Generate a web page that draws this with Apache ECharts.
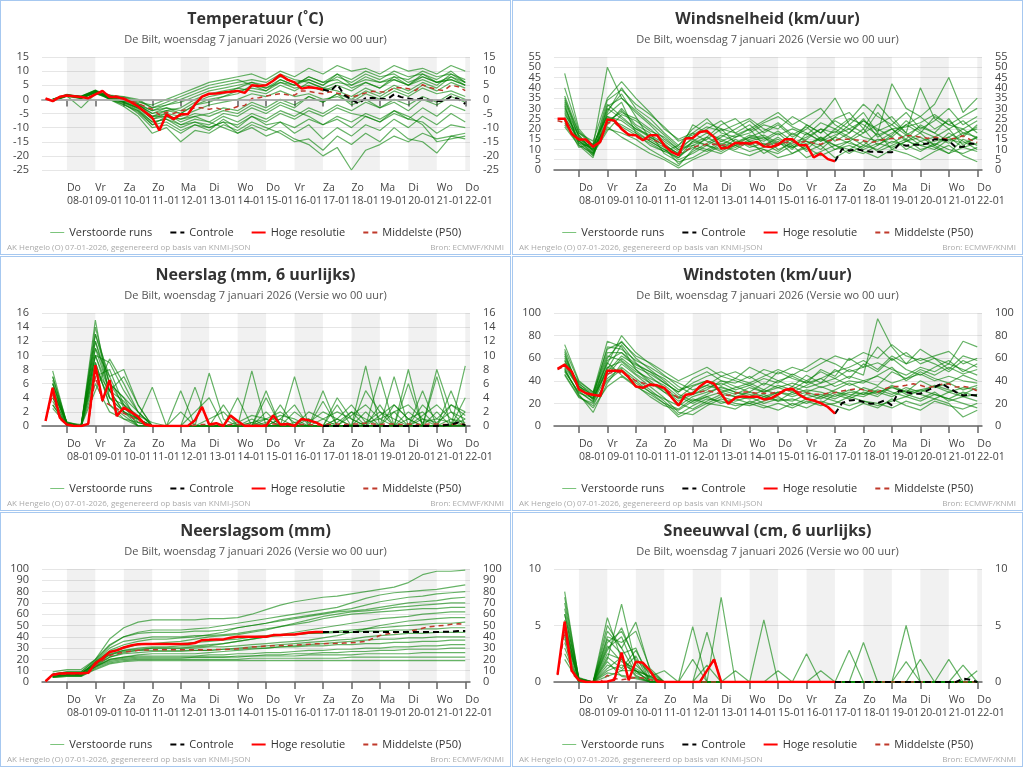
<!DOCTYPE html>
<html>
<head>
<meta charset="utf-8">
<script src="https://cdn.jsdelivr.net/npm/echarts@6/dist/echarts.min.js"></script>
<style>
  body { margin: 0; background: #fff; }
  .panel { position: absolute; width: 511px; height: 255px; box-sizing: border-box; border: 1px solid #a6c8f0; }
</style>
</head>
<body>
<div class="panel" id="temp" style="left:0;top:0"></div>
<div class="panel" id="wind" style="left:512px;top:0"></div>
<div class="panel" id="rain" style="left:0;top:256px"></div>
<div class="panel" id="gust" style="left:512px;top:256px"></div>
<div class="panel" id="rainsum" style="left:0;top:512px"></div>
<div class="panel" id="snow" style="left:512px;top:512px"></div>
<script>
// tijdas: uren t.o.v. 08-01 00 uur
var hours6 = [-18,-12,-6,0,6,12,18,24,30,36,42,48,54,60,66,72,78,84,90,96,102,108,114,120,126,132,138,144,150,156,
  162,168,174,180,186,192,198,204,210,216,222,228,234,240,246,252,258,264,270,276,282,288,294,300,306,312,318,324,330,336];
var hours12 = [-12,0,12,24,36,48,60,72,84,96,108,120,132,144,156,168,180,192,204,216,228,240,252,264,276,288,300,312,324,336];
var dayTicks = [0,24,48,72,96,120,144,168,192,216,240,264,288,312,336];
var dayNames = ['Do','Vr','Za','Zo','Ma','Di','Wo','Do','Vr','Za','Zo','Ma','Di','Wo','Do'];
var dayDates = ['08-01','09-01','10-01','11-01','12-01','13-01','14-01','15-01','16-01','17-01','18-01','19-01','20-01','21-01','22-01'];
var greyDays = [[0,24],[48,72],[96,120],[144,168],[192,216],[240,264],[288,312],[336,340]];

// y-as labels per grafiek
var tempTicks = [-25,-20,-15,-10,-5,0,5,10,15];
var windTicks = [0,5,10,15,20,25,30,35,40,45,50,55];
var rainTicks = [0,2,4,6,8,10,12,14,16];
var gustTicks = [0,20,40,60,80,100];
var sumTicks = [0,10,20,30,40,50,60,70,80,90,100];
var snowTicks = [0,5,10];

/*TODO: temperatuur*/
var tempHres = [0.3,-0.6,0.9,1.4,1.1,0.8,0.4,1.8,3,0.8, 0.8,0.2,-1,-2.5,-4.5,-6.5,-11,-5.3,-7,-5.3,
  -5.3,-1.8,1,2,2.1,2.4,2.7,3,2.3,5, 4.7,5,6.6,8.7,7,6,3.8,4.3,4,3.5];
var tempControl = [3.5,2.8,5.3,1.5,0,-1.5,0.5,0.5,0.3,0,1.8,0.8,0.3,-0.2,0.4,-0.3,-0.6,-0.6,1,0.2,-1.6];
var tempMedian = [0.2,-0.3,1,1.5,1.2,1,0.6,2,2.5,1.5, 1.2,0.5,-0.5,-1.5,-2.5,-3.5,-5.5,-4.5,-5,-4,
  -3.5,-3,-3,-3.5,-3,-3.8,-3.5,-2.5,-2.2,0.3, 0.6,1.2,1.6,2,1.6,1.5,3,2.9,2.3,2,
  2.7,2.2,1.7,0.8,1.5,2.3,2.9,2.7,2.6,4.1, 4.1,3.8,3.1,5.2,4.2,3.5,3.1,5,4.5,3.1];
var tempMembers = [
  [-0.5,1.5,1,3,1,0,-2,-5,-4,-3, 0,2,3,4,6,5,8,6,7,5, 8,6,9,7,10,8,9,7,10,6],
  [0,1.5,0.5,2.5,1.5,1,0,-3,-2,0, 2,4,5,6,7,6,9,7,6,4, 6,5,7,6,8,7,10,8,9,7],
  [-0.3,1.2,1,2.8,0.5,-1,-3,-6,-5,-6, -4,-2,-1,0,2,1,3,1,2,0, 1,-1,2,0,3,1,4,2,3,1],
  [-0.7,1.3,0.8,3,0,-2,-4,-8,-7,-10, -8,-9,-6,-8,-5,-7,-4,-6,-3,-5, -2,-4,-1,-3,0,-2,1,-1,2,0],
  [-0.4,1.6,0.5,2.6,0.2,-1.5,-5,-10,-9,-12, -9,-11,-7,-10,-6,-9,-8,-12,-9,-14, -10,-13,-9,-11,-7,-10,-6,-9,-5,-8],
  [-0.2,1.4,1.2,3.2,0,-2.5,-6,-12,-10,-15, -11,-12,-9,-11,-8,-10,-12,-15,-14,-18, -13,-16,-12,-15,-10,-14,-15,-19,-13,-14],
  [0,1.8,1,2.7,1.2,0.5,-1,-2,0,2, 4,6,7,8,9,7,10,8,11,9, 12,10,11,9,12,10,11,9,12,10],
  [-0.5,1.1,0.7,2.9,0.8,-0.5,-2.5,-7,-5,-8, -6,-5,-3,-4,-1,-3,0,-2,1,-1, 2,0,3,1,4,2,5,3,6,4],
  [-0.6,1.5,0.9,3.1,0.3,-1.2,-4,-9,-8,-11, -9,-10,-8,-12,-10,-13,-11,-14,-16,-20, -17,-25,-18,-16,-13,-15,-12,-14,-13,-12],
  [-0.2,1.3,0.6,2.4,1,0,-1.5,-4,-3,-5, -2,0,1,3,4,3,6,4,5,3, 5,3,6,4,7,5,8,6,7,5],
  [-0.4,1.4,0.4,2.2,0.6,-0.8,-3,-6,-6,-9, -7,-8,-5,-6,-3,-5,-2,-4,-6,-9, -7,-10,-6,-8,-4,-7,-3,-6,-2,-4],
  [0.1,1.6,0.2,2.5,1.4,0.2,-2,-5,-3,-4, -1,1,2,4,3,2,5,3,6,4, 3,1,4,2,5,3,6,4,8,5],
  [-0.3,1.2,-3,2,0.4,-1,-3.5,-8,-7,-9, -8,-10,-8,-9,-6,-8,-5,-7,-4,-6, -3,-5,-6,-8,-5,-7,-8,-12,-9,-10],
  [-0.1,1.5,1.1,3.3,1.3,0.3,-1.5,-6,-4,-5, -2,-1,1,2,5,3,7,5,8,6, 9,5,8,6,7,5,9,6,8,6],
  [-0.6,1,0.3,2.3,0.1,-1.8,-4.5,-9,-6,-7, -5,-6,-4,-5,-2,-4,-1,-3,1,-1, 2,-2,0,-3,-1,-4,0,-2,1,-1],
  [-0.2,1.7,0.8,2.8,0.9,-0.3,-2,-4,-2,-1, 1,3,4,5,6,4,7,5,8,6, 7,4,6,4,8,5,7,5,9,6],
  [-0.5,1.3,0.5,2.6,0.5,-1,-3,-7,-6,-7, -6,-8,-10,-12,-9,-11,-8,-10,-7,-9, -6,-8,-5,-7,-4,-6,-9,-15,-14,-13],
  [0,1.4,0.9,3,1.1,0.8,-0.5,-3,-1,1, 3,5,6,7,5,4,6,5,7,5, 9,7,10,8,9,6,8,6,7,5]
];

/*TODO: windsnelheid*/
var windHres = [24.9,24.9,17.5,14.8,14.8,11.3,13.7,24.6,24.1,20, 17.2,16.9,14.5,16.9,16.9,12,8.8,7.2,15.3,15.6,
  18.5,19,16,10.5,11,13.2,13.2,12.9,13.7,11.5, 11.2,12.3,15,15,12.1,12.1,6.1,8.1,5.3,4.2];
var windControl = [4.2,10.2,9.4,10.2,9.4,8.9,8.9,8.6,8.6,12.6,11.8,12.3,12.3,12.9,15,15,14.2,11,11.3,12.9,12.6];
var windMedian = [24,23,18,15,14,11.5,14,23,23,20, 17.5,16,15,15,14,11.5,9,8,9.5,11,
  12,12.5,12.5,12,12.3,12.5,12.2,12.5,12.8,12.5, 12.6,13,13.4,13.4,13.2,14.2,13,12.5,14.2,14.6,
  15,15,14.6,14.2,13.4,14,15,15.3,15.5,16.7, 16.7,16,15.5,15.9,15.5,15,15.5,16.7,14.8,13.4];
var windMembers = [
  [35,16,10,30,25,20,16,12,8,14, 18,15,12,16,14,18,12,15,20,14, 18,25,16,20,14,18,12,16,20,15],
  [47,20,12,50,35,28,22,15,10,12, 15,20,18,22,16,12,18,14,10,16, 22,18,28,20,15,22,18,25,16,22],
  [28,14,8,25,22,18,14,10,5,8, 12,10,15,11,13,9,14,10,16,12, 8,12,10,14,12,9,13,10,8,11],
  [32,12,6,28,40,30,25,18,12,20, 25,18,16,20,12,15,10,18,14,20, 16,12,18,10,14,16,12,18,14,10],
  [25,15,11,22,30,22,18,8,4,6, 10,14,12,9,11,14,8,12,16,10, 14,18,22,26,18,14,16,20,12,16],
  [36,18,14,35,43,35,28,20,15,18, 14,12,16,18,22,20,26,22,18,24, 20,16,14,18,22,26,20,24,18,20],
  [30,17,9,20,18,15,10,6,2,10, 16,12,10,14,8,12,15,9,12,6, 10,8,12,16,10,14,11,8,15,12],
  [22,13,7,24,28,25,20,14,9,16, 20,24,18,14,16,10,13,16,20,18, 24,32,26,22,28,20,24,30,22,26],
  [40,19,12,27,33,18,12,9,6,14, 12,16,20,24,18,22,16,20,26,35, 22,28,18,42,30,26,32,45,28,35],
  [26,14,10,32,26,20,17,13,7,11, 9,13,11,15,17,13,11,14,12,16, 13,11,15,13,17,12,14,16,11,13],
  [33,16,8,29,37,26,15,11,3,9, 13,17,14,12,10,8,12,6,9,12, 10,14,9,12,15,10,12,8,11,9],
  [24,11,13,26,21,17,13,9,12,18, 23,20,13,16,19,23,17,21,15,19, 15,20,12,17,24,19,16,13,17,21],
  [29,15,7,31,35,29,23,17,11,15, 12,9,13,17,15,19,14,22,18,25, 28,20,32,24,18,40,25,20,24,18],
  [27,17,9,23,29,21,16,12,8,22, 18,14,17,20,24,28,22,26,30,22, 18,24,20,16,22,18,26,22,20,24],
  [31,13,11,21,16,12,8,5,1,5, 8,12,9,7,10,6,8,11,7,10, 12,9,6,10,8,5,9,12,7,4],
  [23,14,10,34,39,32,27,21,14,17, 21,19,22,25,20,17,20,17,23,20, 25,22,17,20,21,23,27,22,26,30],
  [34,18,12,26,24,19,14,10,6,12, 10,8,12,14,12,16,11,13,15,12, 14,10,13,11,14,12,10,15,13,16],
  [21,12,8,19,27,24,19,16,10,13, 16,22,25,19,23,26,21,18,14,17, 20,24,19,22,17,21,18,14,18,16]
];

/*TODO: neerslag per 6 uur*/
var rainHres = [0.7,5.4,1.2,0.2,0,0,0.3,8.6,3.6,6.5, 1.4,2.6,2,1.3,0.2,0,0,0,0,0,
  0,0.8,2.7,0.2,0.4,0,1.5,0.7,0,0, 0,0,1.5,0.2,0.3,0,1,0.8,0.5,0];
var rainControl = [0,0,0,0,0,0,0,0,0,0,0,0,0,0,0,0,0,0.1,0.2,0.5,0.1];
var rainMedian = [0.8,4.5,1,0.2,0.1,0,0.3,7,3.5,3, 2.5,1.8,1.3,0.8,0.4,0.1,0,0,0,0,
  0,0.1,0.2,0.2,0.1,0.1,0.2,0.2,0.1,0.2, 0.1,0.2,0.3,0.2,0.1,0.1,0.2,0.2,0.1,0.2,
  0.2,0.3,0.2,0.3,0.3,0.4,0.3,0.2,0.3,0.3, 0.2,0.3,0.2,0.2,0.3,0.3,0.2,0.2,0.3,0.2];
var rainMembers = [
  [7.8,0.3,0,15,4,2,0.5,0,0,0, 0,0,0,0,1,0,0,0,1,0, 0,2,0,0,3,1,0,0,0,2],
  [5,0.5,0.2,12,6,3,1,0,0,0, 0,1,2,0,0,0,0,0,0,0, 1,0,5,2,0,0,1,0,0,0],
  [4,0.2,0,10,9,5,2,0,0,0, 2,4,0,0,0,0,1,3,0,0, 0,0,0,0,0,1,0,8,2,0],
  [6,0.4,0,9,3,1,0,0,0,0, 0,0,0,0.5,1.5,1,0,2,0.5,2, 1,0,0.5,1,2,0,3,1,0.5,0],
  [3,0.1,0,13,7,8,3,0,0,0, 0,0,0,0,0,0,0,0,0,0, 4,1,0,0,0,6,0,0,1,0],
  [7,0.3,0.1,11,5,2,1,5.5,0,0, 0,0,0,0,0,1,2,0.5,1,0, 0.5,2,1,0,2,3,1,0.5,2,1],
  [5.5,0.2,0,8,4,3,1.5,0.5,0,0, 0,0,0,0,7.8,0,0,0,0,3.5, 0,0,0,0,0,0,0,2,0,0],
  [4.5,0.6,0,14,6,4,0.5,0,0,5, 0,0,0,0,0,0,0,0,0,0, 0,0,8.5,0,0,0,0,0,0,4],
  [6.5,0.3,0,7,8,3,0,0,0,0, 0,7.5,1,0,0.5,0,1,0,2,1, 0,1.5,3,1,0,2,0.5,1,3,2],
  [2.5,0.2,0,6,2,1,0.5,0,0,0, 0,0,0,0,0,0.5,1.5,1,0,0, 1,3,0.5,2,1,0,1.5,3,1,0.5],
  [5,0.4,0,12,5,2,1,0,0,0, 5.5,0,0,0,0,5,0,0,0,0, 0,0,0,0,0,8,0,0,0,0],
  [3.5,0.1,0,10,4,2,0,0,0,0, 0,0,0,0,0,0,0,7,0,0, 0,0,0,0,7,0,0,0,0,0],
  [6,0.2,0,9,3,1.5,0,0,0,0, 0,0,3,0,0,0,0,0,0,0, 3,0,0,7,0,0,0,0,5,0],
  [4,0.3,0,11,7,2.5,1,0,0,0, 0,0,0,0,0,4,0,0,0,0, 0,0,0,0,0,0,0,0,0,8.5],
  [7,0.5,0.1,13,6,4,2,0,0,2, 0,0,0,4,0,0,0,0,0,5, 0,0,2,0,0,0,0,7,0,0],
  [5,0.3,0,8,5,3.5,1,0,0,0, 0,0,0,0,0,0,3,0,0,0, 0,0,0,0,0,0,5,0,0,1],
  [3,0.2,0,5,9.5,6,2,0,0,0, 0,0,0,0,0,2,0,0,0,0, 0,0,0,3,0,0,0,0,0,0],
  [6,0.4,0,10,5,7,3,0,0,0, 0,0,0,0,0.5,1,0,0.5,0,1, 2,1,0,1.5,3,1,2,0,3,1.5]
];

/*TODO: windstoten*/
var gustHres = [50.6,54.4,48,32.4,29,27.6,26.5,49,49,49, 43,35,33.8,36.8,36,33.8,25.6,18.2,27.6,28.5,
  35,39.7,37.4,28.5,19.7,25,26.2,25.6,26.2,23.5, 24.5,27.9,32,33,27.6,24,22.6,20.3,16.8,10.9];
var gustControl = [10.9,20.3,22.6,23.2,21.2,19.7,20.3,22.6,18.2,31.5,30,28.5,28.5,31.5,34.4,37.4,33.8,30,27,27.6,27];
var gustMedian = [50,53,47,33,29,27,27,46,48,47, 44,40,38,36,35,33,29,25,27,29,
  30,31.5,30,28,27,29,30,30,29,29, 29,30,31,32,30,29,28,28,29,29.5,
  31,32,33,32,31,30,33,35,35,36, 37.4,36,34,35,37,37.4,34.4,35,34,31];
var gustMembers = [
  [72,40,30,75,70,50,38,30,25,35, 40,30,34,38,32,40,35,45,38,50, 42,55,48,60,50,45,52,58,48,55],
  [55,33,25,55,80,65,55,45,35,28, 32,40,35,30,38,34,30,36,42,35, 40,38,45,52,40,48,42,38,45,40],
  [48,30,22,45,60,50,40,30,20,15, 22,28,26,24,28,22,30,25,28,24, 30,28,35,30,26,32,28,24,30,26],
  [62,35,28,65,65,55,48,38,30,42, 48,40,38,44,36,48,42,38,50,44, 60,52,70,58,65,55,60,50,62,58],
  [50,28,12,38,55,45,35,25,12,10, 18,24,20,18,22,26,18,24,20,28, 24,30,26,35,28,24,30,22,26,28],
  [58,38,26,60,75,60,50,40,28,22, 28,35,30,26,32,28,35,30,26,32, 38,32,28,36,30,40,34,38,32,36],
  [45,25,20,40,50,40,30,20,8,14, 20,18,15,22,18,14,20,16,22,18, 14,20,16,24,18,14,22,18,15,20],
  [66,32,27,70,68,58,52,44,38,32, 36,44,40,36,42,38,46,40,48,42, 50,45,95,70,55,60,55,48,58,52],
  [52,34,24,50,72,56,44,34,24,30, 36,32,28,34,30,36,32,40,34,38, 44,40,36,48,42,50,45,52,46,50],
  [60,37,29,62,58,48,42,36,26,20, 26,30,26,30,26,30,26,30,35,30, 28,26,32,28,34,30,36,32,28,34],
  [46,26,18,42,52,42,32,22,10,18, 24,22,18,20,16,20,16,22,18,20, 26,22,18,22,26,22,28,24,20,16],
  [56,36,23,58,65,52,46,38,30,38, 44,48,42,52,46,40,44,38,42,48, 52,58,50,62,55,68,60,55,75,70],
  [64,31,21,52,48,38,30,24,18,26, 30,34,30,28,24,30,28,32,30,26, 32,28,30,34,30,32,35,30,34,32],
  [49,29,25,48,62,54,48,42,32,36, 40,36,42,38,44,50,45,52,60,55, 48,52,56,50,45,52,48,55,50,45],
  [54,35,27,56,45,36,26,18,14,22, 26,20,24,20,26,22,24,20,26,22, 18,22,20,16,22,18,24,20,8,14],
  [68,39,30,68,74,62,56,48,40,46, 52,44,48,42,50,46,52,48,55,62, 58,65,60,72,62,58,62,66,55,60],
  [51,27,16,35,44,35,28,20,15,24, 20,26,22,26,20,24,22,28,24,30, 26,34,30,26,32,28,24,30,26,22],
  [58,33,24,52,57,46,38,32,22,28, 34,38,32,36,30,34,38,34,38,42, 36,40,44,38,42,46,40,44,40,38]
];

/*TODO: neerslagsom*/
var sumHres = [0.7,6.5,7.6,7.8,7.8,7.8,8.2,16.5,21,26.5, 28,30.5,32.3,33.5,33.7,33.7,33.7,33.7,33.7,33.7,
  33.7,34.5,37,37.3,37.7,37.7,39.2,40,40,40, 40,40,41.5,41.7,42,42,43,43.8,44.3,44.3];
var sumControl = [44.3,44.3,44.3,44.3,44.3,44.3,44.3,44.3,44.3,44.3,44.3,44.3,44.3,44.3,44.3,44.3,44.3,44.4,44.6,45.1,45.2];
var sumMedian = [0.6,6,7,7.2,7.2,7.3,7.6,14.7,19,23.5, 25,26.5,27.3,28,28.3,28.5,28.5,28.5,28.5,28.5,
  28.5,28.5,28.6,28.6,28.7,28.8,29,29.4,30,30.9, 31.3,31.8,32,32.2,32.4,32.6,33,33.4,33.8,33.8,
  34,34.2,34.5,34.7,35.2,35.9,38.5,41.2,42.5,43.5, 44.2,44.7,46,47.5,49,49.6,50,51,51.5,51];
var sumMembers = [
  [9,11,11,20,38,48,53,55,55,55, 55,56,56,57,60,64,68,71,73,75, 76,78,80,82,84,88,95,98,98,99],
  [7,9,9,19,32,40,44,46,46,46, 47,48,50,52,54,56,58,60,62,64, 66,70,74,77,79,80,81,82,84,86],
  [6,8,8,17,28,33,36,38,38,39, 40,42,44,48,50,52,54,56,58,60, 62,63,64,66,68,70,71,72,74,75],
  [6,7,7,16,26,30,33,34,35,36, 38,40,41,42,44,46,49,52,55,58, 60,62,63,64,66,67,68,69,70,70],
  [5,7,7,18,30,36,38,40,40,40, 41,41,42,43,45,47,49,51,53,56, 58,60,61,62,63,64,65,65,66,66],
  [7,8,8,15,24,28,30,31,31,32, 32,33,34,36,38,40,42,44,46,48, 50,52,54,56,57,58,60,61,62,62],
  [6,8,8,16,25,28,29,30,30,30, 30,31,31,32,33,34,35,36,37,39, 41,44,47,50,52,54,55,56,57,57],
  [5,6,6,14,22,26,28,30,30,30, 31,32,34,36,38,40,41,42,43,44, 45,46,47,48,49,50,51,52,52,53],
  [6,7,7,18,27,31,33,34,34,34, 35,36,37,38,40,41,42,42,43,43, 44,44,45,45,46,46,47,47,48,48],
  [5,7,7,15,22,25,26,27,27,27, 28,28,29,30,31,32,33,34,35,36, 37,38,40,41,42,43,43,44,44,44],
  [5,6,6,13,20,22,24,25,25,25, 25,26,27,28,29,30,31,32,33,34, 35,36,37,38,38,39,39,40,40,40],
  [6,7,7,16,24,27,28,28,28,28, 28,28,29,29,30,30,31,31,32,32, 33,33,34,34,35,35,36,36,37,37],
  [5,6,6,14,20,22,23,23,23,23, 23,24,24,25,25,26,26,27,28,28, 29,29,30,30,31,31,32,32,33,33],
  [4,6,6,13,18,20,21,21,21,21, 22,22,22,23,23,24,24,25,25,26, 26,27,27,28,28,29,29,29,30,30],
  [5,6,6,14,19,21,22,22,22,22, 22,22,22,22,23,23,23,23,24,24, 24,24,25,25,25,25,26,26,26,26],
  [4,5,5,12,17,19,20,20,20,20, 20,20,20,20,21,21,21,21,21,21, 21,22,22,22,22,22,22,22,22,22],
  [4,5,5,11,16,18,19,19,19,19, 19,19,19,19,19,19,19,19,19,19, 19,19,19,19,19,19,19,19,19,19],
  [7,9,9,20,33,40,43,44,44,44, 45,45,46,48,50,52,55,57,59,61, 63,65,68,71,73,75,76,78,79,80]
];

/*TODO: sneeuwval per 6 uur*/
var snowHres = [0.65,5.35,1,0.15,0,0,0,0.05,0.2,2.6, 0.15,1.8,1.7,1,0.05,0,0,0,0,0,
  0,1,2,0,0,0,0,0,0,0, 0,0,0,0,0,0,0,0,0,0];
var snowControl = [0,0,0,0,0,0,0,0,0,0,0,0,0,0,0,0,0,0,0.3,0.2,0];
var snowMedian = [0.6,4.5,0.8,0.1,0,0,0,0.6,0.3,0.2, 0.3,0.4,0.35,0.2,0.1,0,0,0,0,0,
  0,0,0,0,0,0,0,0,0,0, 0,0,0,0,0,0,0,0,0,0, 0,0,0,0,0,0,0,0,0,0, 0,0,0,0,0,0,0,0,0,0];
var snowMembers = [
  [8,0.2,0,5.7,2,1,0.5,0,0,0, 0,7.5,0,0,0,0,0,0,0,0, 0,0,0,0,0,0,0,0,0,0],
  [6,0.3,0,3.5,4.5,2,0.8,0,0,0, 0,0,0,0,0,0,0,0,0,0, 0,0,0,0,5,0,0,0,0,0],
  [5,0.1,0,2,6.9,1.5,0.3,0,0,0, 0,0,0,0,0,0,0,0,0,0, 0,3.5,0,0,0,0,0,0,0,0],
  [4,0.4,0,4.5,3,5.3,1,0,0,0, 0,0,0,0,5.5,0,0,0,0,0, 0,0,0,0,0,0,0,0,0,0],
  [3,0,0,1.5,1,2.3,0,0,0,4.9, 0,0,0,0,0,0,0,0,0,0, 0,0,0,0,0,2,0,0,0,0],
  [7,0.2,0,3,4,1,0.5,1,0,0, 0,0,0,0,0,0,0,0,0,0, 2.8,0,0,0,0,0,0,0,0,0],
  [5.5,0.1,0,2.5,2,0.5,0,0,0,0, 4.4,0,0,0,0,0,0,0,0,0, 0,0,0,0,0,0,0,2,0,0],
  [2,0,0,1,1.5,1,0,0,0,0, 0,0,0,0,0,1,0,0,0,0, 0,0,0,0,0,0,0,0,0,0],
  [6.5,0.3,0,5,3,0.8,0.2,0,0,0, 0,0,0,0,0,0,0,0,0,0, 0,0,0,0,0,0,0,0,1.5,0],
  [4.5,0.1,0,0.5,1,1,0,0,0,2, 0,0,0,0,0,0,0,0,0,0, 0,0,0,0,0,0,0,0,0,0],
  [6,0.2,0,3.8,2.5,3,0,0,0,0, 0,0,0,0,0,0,0,0,1,0, 0,0,0,0,0,0,0,0,0,0],
  [3.5,0,0,2.8,4.8,1.8,0,0,0,0, 0,0,0,0,0,0,0,0,0,0, 0,0,0,0,0,0,0,0,0,0],
  [5,0.2,0,1.8,0.5,0.3,0,0,0,0, 1.5,0,0,0,0,0,0,0,0,0, 0,0,0,0,0,0,0,0,0,0],
  [7.5,0.3,0,4,3.5,4.5,1.2,0,0,0, 0,0,0,0,0,0,0,0,0,0, 0,0,0,0,0,0,0,0,0,0],
  [2.5,0.1,0,0.8,0.6,0.4,0,0,0,0, 0,0,0,0,0,0,0,0,0,0, 0,0,0,0,1.8,0,0,0,0,0],
  [3.8,0.2,0,2.2,1.2,2.8,0.5,0,0,0, 0,0,1,0,0,0,0,0,0,0, 0,0,0,0,0,0,0,0,0,0],
  [5.2,0.1,0,1.2,2.2,0.6,0,0,0,0, 0,0,0,0,0,0,0,2.5,0,0, 0,0,0,0,0,0,0,0,0,0],
  [4.2,0.3,0,3.2,1.8,1.2,0.4,0,0,0, 0,0,0,0,0,0,0,0,0,0, 0,0,0,0,0,0,0,0,0,1]
];

var subTitle = 'De Bilt, woensdag 7 januari 2026 (Versie wo 00 uur)';

function pair(xs, ys) {
  return ys.map(function (v, i) { return [xs[i], v]; });
}

// labels om en om over twee assen verdelen, zodat ECharts er geen verbergt
function labelAxis(ticks, parity, pos) {
  return {
    type: 'value', position: pos, offset: 0,
    min: ticks[0], max: ticks[ticks.length - 1],
    axisLine: { show: false }, axisTick: { show: false }, splitLine: { show: false },
    axisLabel: {
      fontSize: 11, color: '#444', margin: 13, showMinLabel: true, showMaxLabel: true,
      customValues: ticks.filter(function (t, i) { return i % 2 === parity; })
    }
  };
}

function plume(id, cfg) {
  var chart = echarts.init(document.getElementById(id));
  var ticks = cfg.ticks;
  var series = [];

  cfg.members.forEach(function (m, i) {
    var s = {
      name: 'Verstoorde runs', type: 'line', data: pair(hours12, m),
      symbol: 'none', silent: true, z: 2,
      lineStyle: { color: '#008000', width: 1.2, opacity: 0.6 },
      itemStyle: { color: '#008000' }
    };
    if (i === 0) {
      s.markArea = {
        silent: true,
        itemStyle: { color: 'rgba(0,0,0,0.055)' },
        data: greyDays.map(function (d) { return [{ xAxis: d[0] }, { xAxis: d[1] }]; })
      };
      if (cfg.zeroLine) {
        s.markLine = {
          silent: true, symbol: 'none', label: { show: false },
          lineStyle: { color: '#bbb', type: 'solid', width: 1.5 },
          data: [{ yAxis: 0 }]
        };
      }
    }
    series.push(s);
  });

  series.push({
    name: 'Middelste (P50)', type: 'line', data: pair(hours6, cfg.median),
    symbol: 'none', z: 3,
    lineStyle: { color: '#c0392b', width: 1.5, type: [5, 4] },
    itemStyle: { color: '#c0392b' }
  });
  series.push({
    name: 'Controle', type: 'line', data: pair(hours6.slice(39), cfg.control),
    symbol: 'none', z: 4,
    lineStyle: { color: '#000', width: 2, type: [6, 4] },
    itemStyle: { color: '#000' }
  });
  series.push({
    name: 'Hoge resolutie', type: 'line', data: pair(hours6, cfg.hres),
    symbol: 'none', z: 5,
    lineStyle: { color: '#ff0000', width: 2.5 },
    itemStyle: { color: '#ff0000' }
  });

  var option = {
    animation: false,
    textStyle: { fontFamily: 'Open Sans, sans-serif' },
    title: {
      text: cfg.title, subtext: subTitle, left: 'center', top: 5, itemGap: 7,
      textStyle: { fontSize: 16, fontWeight: 'bold', color: '#333' },
      subtextStyle: { fontSize: 11, color: '#555' }
    },
    legend: {
      top: 221, left: 'center', itemWidth: 14, itemHeight: 8, itemGap: 17,
      textStyle: { fontSize: 11, color: '#333' },
      itemStyle: { opacity: 0 },
      data: [
        { name: 'Verstoorde runs', lineStyle: { color: '#7cc47c', width: 1, opacity: 1 } },
        'Controle', 'Hoge resolutie', 'Middelste (P50)'
      ]
    },
    grid: { left: 41, top: 56, width: 428, height: 113 },
    xAxis: {
      type: 'value', min: -21, max: 340,
      axisLine: { lineStyle: { color: '#666', width: 1.5 } },
      axisTick: { customValues: dayTicks, length: 7, lineStyle: { color: '#666', width: 1.5 } },
      axisLabel: {
        customValues: dayTicks, align: 'left', margin: 12, fontSize: 10.5, color: '#444', lineHeight: 13,
        showMinLabel: true, showMaxLabel: true, hideOverlap: false,
        formatter: function (v) {
          var i = dayTicks.indexOf(v);
          return dayNames[i] + '\n' + dayDates[i];
        }
      },
      splitLine: { show: false }
    },
    yAxis: [
      {
        type: 'value', min: ticks[0], max: ticks[ticks.length - 1], interval: ticks[1] - ticks[0],
        axisLine: { show: false }, axisTick: { show: false }, axisLabel: { show: false },
        splitLine: { lineStyle: { color: '#e6e6e6' } }
      },
      labelAxis(ticks, 0, 'left'),
      labelAxis(ticks, 1, 'left'),
      labelAxis(ticks, 0, 'right'),
      labelAxis(ticks, 1, 'right')
    ],
    graphic: [
      { type: 'text', left: 6, top: 243, style: { text: 'AK Hengelo (O) 07-01-2026, gegenereerd op basis van KNMI-JSON', fontSize: 8, fill: '#aaa', fontFamily: 'Open Sans, sans-serif' } },
      { type: 'text', right: 6, top: 243, style: { text: 'Bron: ECMWF/KNMI', fontSize: 8, fill: '#aaa', fontFamily: 'Open Sans, sans-serif' } }
    ],
    series: series
  };
  chart.setOption(option);
}

plume('temp', { title: 'Temperatuur (˚C)', ticks: tempTicks, zeroLine: true,
  members: tempMembers, hres: tempHres, control: tempControl, median: tempMedian });
plume('wind', { title: 'Windsnelheid (km/uur)', ticks: windTicks,
  members: windMembers, hres: windHres, control: windControl, median: windMedian });
plume('rain', { title: 'Neerslag (mm, 6 uurlijks)', ticks: rainTicks,
  members: rainMembers, hres: rainHres, control: rainControl, median: rainMedian });
plume('gust', { title: 'Windstoten (km/uur)', ticks: gustTicks,
  members: gustMembers, hres: gustHres, control: gustControl, median: gustMedian });
plume('rainsum', { title: 'Neerslagsom (mm)', ticks: sumTicks,
  members: sumMembers, hres: sumHres, control: sumControl, median: sumMedian });
plume('snow', { title: 'Sneeuwval (cm, 6 uurlijks)', ticks: snowTicks,
  members: snowMembers, hres: snowHres, control: snowControl, median: snowMedian });
</script>
</body>
</html>
